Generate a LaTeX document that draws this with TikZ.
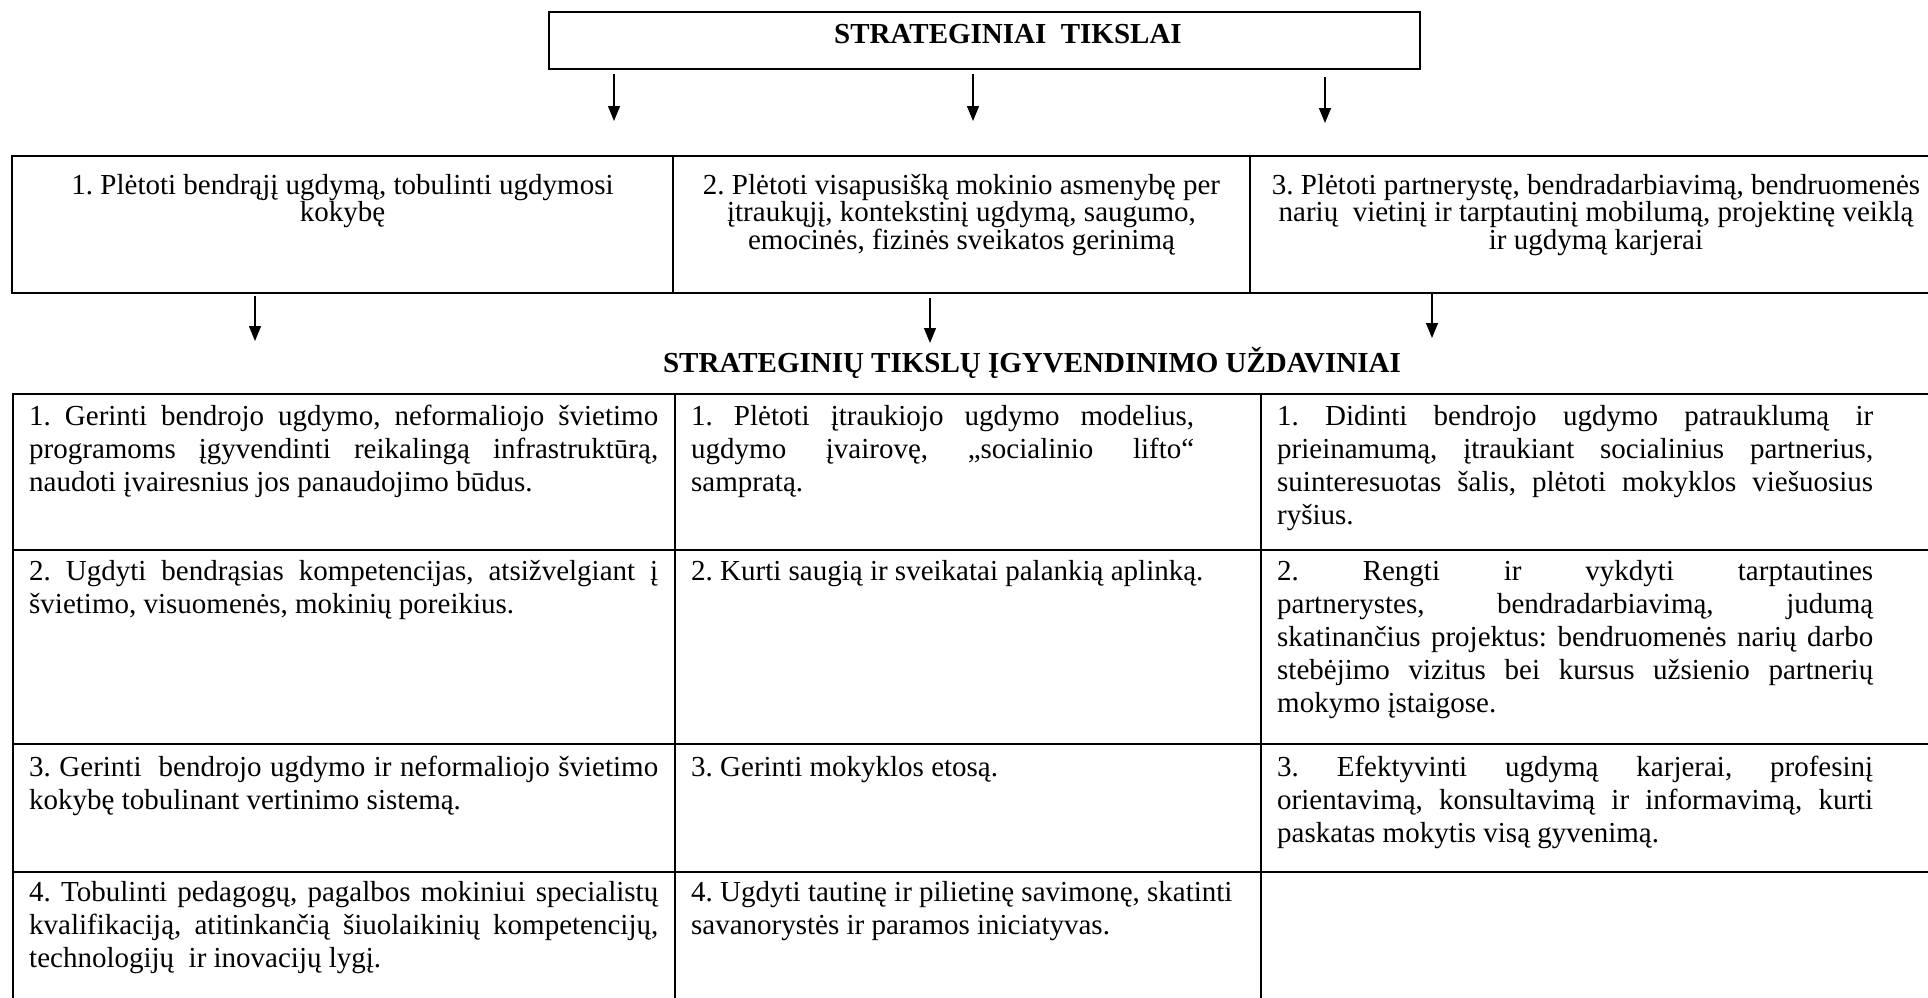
\documentclass[tikz,border=0pt]{standalone}
\usepackage{fontspec}
\setmainfont{Liberation Serif}
\usetikzlibrary{arrows.meta}
\tikzset{
  frame/.style={draw, line width=2pt, inner sep=0pt, outer sep=0pt, anchor=north west},
  arr/.style={line width=1.3pt, -{Triangle[length=15pt,width=12pt]}},
  ctext/.style={inner sep=0pt, align=center, text width=700pt, anchor=base, font=\fontsize{29}{27.5}\selectfont},
  ltext/.style={inner sep=0pt, align=left, anchor=base west, font=\fontsize{29}{33}\selectfont},
  headtext/.style={inner sep=0pt, anchor=base, font=\fontsize{29}{33}\selectfont\bfseries},
}
\newcommand{\sk}{\spaceskip=0pt\relax\xspaceskip=0pt\relax\frenchspacing}
\newcommand{\rigid}{\spaceskip=\fontdimen2\font\relax\xspaceskip=\fontdimen2\font\relax\frenchspacing}
\newcommand{\jl}[2]{\makebox[#1][s]{\sk #2}\\}
\begin{document}
\frenchspacing
\begin{tikzpicture}[x=1pt,y=-1pt]
\useasboundingbox (0,0) rectangle (1928,997);
\clip (0,0) rectangle (1928,997);
% title
\node[frame, minimum width=871pt, minimum height=57pt] (top) at (549,12) {};
\node[headtext] (toptext) at (1008,43) {\sk STRATEGINIAI\ \ TIKSLAI};
% top arrows
\coordinate (a1s) at (614,74);  \coordinate (a1e) at (614,121);
\coordinate (a2s) at (973,74);  \coordinate (a2e) at (973,121);
\coordinate (a3s) at (1325,77); \coordinate (a3e) at (1325,123);
\draw[arr] (a1s) -- (a1e);
\draw[arr] (a2s) -- (a2e);
\draw[arr] (a3s) -- (a3e);
% goals row
\node[frame, minimum width=661pt, minimum height=137pt] (g1) at (12,156) {};
\node[frame, minimum width=577pt, minimum height=137pt] (g2) at (673,156) {};
\node[frame, minimum width=700pt, minimum height=137pt] (g3) at (1250,156) {};
\node[ctext] (g1t) at (342.5,194) {\rigid 1. Plėtoti bendrąjį ugdymą, tobulinti ugdymosi\\kokybę};
\node[ctext] (g2t) at (961.5,194) {\rigid 2. Plėtoti visapusišką mokinio asmenybę per\\įtraukųjį, kontekstinį ugdymą, saugumo,\\emocinės, fizinės sveikatos gerinimą};
\node[ctext] (g3t) at (1596,194) {\rigid 3. Plėtoti partnerystę, bendradarbiavimą, bendruomenės\\narių\ \ vietinį ir tarptautinį mobilumą, projektinę veiklą\\ir ugdymą karjerai};
% lower arrows
\coordinate (b1s) at (255,296);  \coordinate (b1e) at (255,341);
\coordinate (b2s) at (930,298);  \coordinate (b2e) at (930,343);
\coordinate (b3s) at (1432,293); \coordinate (b3e) at (1432,338);
\draw[arr] (b1s) -- (b1e);
\draw[arr] (b2s) -- (b2e);
\draw[arr] (b3s) -- (b3e);
% heading
\node[headtext] (head) at (1032,372) {\sk STRATEGINIŲ TIKSLŲ ĮGYVENDINIMO UŽDAVINIAI};
% task table cells
\node[frame, minimum width=662pt, minimum height=156pt] (c11) at (13,394) {};
\node[frame, minimum width=586pt, minimum height=156pt] (c12) at (675,394) {};
\node[frame, minimum width=689pt, minimum height=156pt] (c13) at (1261,394) {};
\node[frame, minimum width=662pt, minimum height=194pt] (c21) at (13,550) {};
\node[frame, minimum width=586pt, minimum height=194pt] (c22) at (675,550) {};
\node[frame, minimum width=689pt, minimum height=194pt] (c23) at (1261,550) {};
\node[frame, minimum width=662pt, minimum height=128pt] (c31) at (13,744) {};
\node[frame, minimum width=586pt, minimum height=128pt] (c32) at (675,744) {};
\node[frame, minimum width=689pt, minimum height=128pt] (c33) at (1261,744) {};
\node[frame, minimum width=662pt, minimum height=140pt] (c41) at (13,872) {};
\node[frame, minimum width=586pt, minimum height=140pt] (c42) at (675,872) {};
\node[frame, minimum width=689pt, minimum height=140pt] (c43) at (1261,872) {};
% column 1
\node[ltext, text width=640pt] (t11) at (29,425) {\sk\jl{629pt}{1. Gerinti bendrojo ugdymo, neformaliojo švietimo}\jl{629pt}{programoms įgyvendinti reikalingą infrastruktūrą,}naudoti įvairesnius jos panaudojimo būdus.};
\node[ltext, text width=640pt] (t21) at (29,580) {\sk\jl{629pt}{2. Ugdyti bendrąsias kompetencijas, atsižvelgiant į}švietimo, visuomenės, mokinių poreikius.};
\node[ltext, text width=640pt] (t31) at (29,776) {\sk\jl{629pt}{3. Gerinti\ \ bendrojo ugdymo ir neformaliojo švietimo}kokybę tobulinant vertinimo sistemą.};
\node[ltext, text width=640pt] (t41) at (29,901) {\sk\jl{629pt}{4. Tobulinti pedagogų, pagalbos mokiniui specialistų}\jl{629pt}{kvalifikaciją, atitinkančią šiuolaikinių kompetencijų,}technologijų\ \ ir inovacijų lygį.};
% column 2
\node[ltext, text width=580pt] (t12) at (691,425) {\sk\jl{503pt}{1. Plėtoti įtraukiojo ugdymo modelius,}\jl{503pt}{ugdymo įvairovę, „socialinio lifto“}sampratą.};
\node[ltext, text width=580pt] (t22) at (691,580) {\sk 2. Kurti saugią ir sveikatai palankią aplinką.};
\node[ltext, text width=580pt] (t32) at (691,776) {\sk 3. Gerinti mokyklos etosą.};
\node[ltext, text width=580pt] (t42) at (691,901) {\sk 4. Ugdyti tautinę ir pilietinę savimonę, skatinti\\savanorystės ir paramos iniciatyvas.};
% column 3
\node[ltext, text width=620pt] (t13) at (1277,425) {\sk\jl{596pt}{1. Didinti bendrojo ugdymo patrauklumą ir}\jl{596pt}{prieinamumą, įtraukiant socialinius partnerius,}\jl{596pt}{suinteresuotas šalis, plėtoti mokyklos viešuosius}ryšius.};
\node[ltext, text width=620pt] (t23) at (1277,580) {\sk\jl{596pt}{2. Rengti ir vykdyti tarptautines}\jl{596pt}{partnerystes, bendradarbiavimą, judumą}\jl{596pt}{skatinančius projektus: bendruomenės narių darbo}\jl{596pt}{stebėjimo vizitus bei kursus užsienio partnerių}mokymo įstaigose.};
\node[ltext, text width=620pt] (t33) at (1277,776) {\sk\jl{596pt}{3. Efektyvinti ugdymą karjerai, profesinį}\jl{596pt}{orientavimą, konsultavimą ir informavimą, kurti}paskatas mokytis visą gyvenimą.};
\end{tikzpicture}
\end{document}
